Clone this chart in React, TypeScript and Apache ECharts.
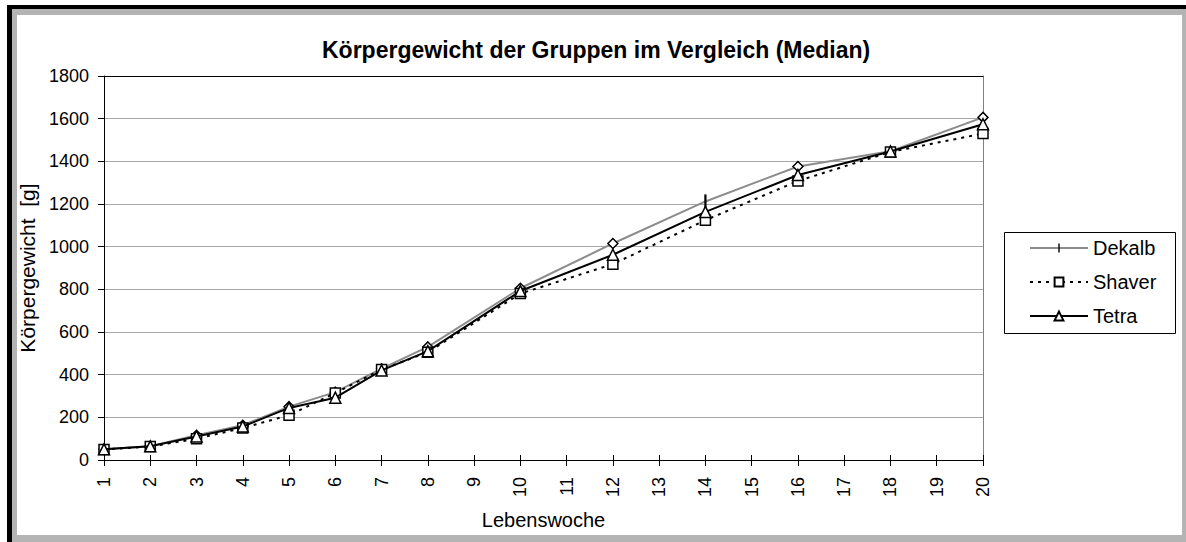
import React, { useEffect, useRef } from 'react';
import * as echarts from 'echarts';

const weeks = ['1', '2', '3', '4', '5', '6', '7', '8', '9', '10', '11', '12', '13', '14', '15', '16', '17', '18', '19', '20'];
const dekalb = [50, 64, 116, 163, 250, 318, 428, 530, null, 805, null, 1015, null, 1212, null, 1376, null, 1447, null, 1606];
const shaver = [49, 63, 100, 150, 210, 314, 424, 505, null, 780, null, 918, null, 1124, null, 1308, null, 1444, null, 1530];
const tetra = [50, 64, 110, 157, 244, 292, 420, 510, null, 792, null, 962, null, 1163, null, 1336, null, 1446, null, 1574];
const seriesNames = ['Dekalb', 'Shaver', 'Tetra'];
const yMin = 0;
const yMax = 1800;
const yStep = 200;
const titleText = 'Körpergewicht der Gruppen im Vergleich (Median)';
const xName = 'Lebenswoche';
const yName = 'Körpergewicht  [g]';

const FONT = "'Liberation Sans', Arial, Helvetica, sans-serif";
const barSymbol = 'path://M0,0M4.2,0h1.6v10h-1.6zM10,10';
const hollow = { color: '#fff', borderColor: '#000', borderWidth: 1.5 };

export default function App() {
  const ref = useRef<HTMLDivElement>(null);
  useEffect(() => {
    document.body.style.margin = '0';
    const chart = echarts.init(ref.current!, null, { renderer: 'svg' });
    const dekalbData = dekalb.map((v, i) =>
      v === null
        ? null
        : i === 13
        ? { value: v, symbol: barSymbol, symbolSize: 14, itemStyle: { color: '#000', borderWidth: 0 } }
        : { value: v, symbol: 'diamond', symbolSize: 10, itemStyle: hollow }
    );
    const option: any = {
      animation: false,
      backgroundColor: '#fff',
      textStyle: { fontFamily: FONT },
      title: {
        text: titleText,
        left: 322,
        top: 38,
        padding: 0,
        textStyle: { fontFamily: FONT, fontSize: 23, fontWeight: 'bold', color: '#000' },
      },
      legend: {
        orient: 'vertical',
        left: 1029,
        top: 238,
        padding: 0,
        itemWidth: 58,
        itemHeight: 11,
        itemGap: 14,
        data: seriesNames,
        textStyle: { fontFamily: FONT, fontSize: 20, color: '#000' },
      },
      grid: { left: 104, right: 203, top: 76, bottom: 82, containLabel: false },
      xAxis: [
        {
          type: 'category',
          data: weeks,
          boundaryGap: false,
          position: 'bottom',
          axisLine: { lineStyle: { color: '#000', width: 1 } },
          axisTick: { show: true, length: 6, lineStyle: { color: '#000' } },
          axisLabel: { rotate: 90, interval: 0, margin: 17, fontSize: 18, color: '#000', fontFamily: FONT },
          splitLine: { show: false },
          name: xName,
          nameLocation: 'middle',
          nameGap: 50,
          nameTextStyle: { fontSize: 20, color: '#000', fontFamily: FONT },
        },
        {
          type: 'category',
          data: weeks,
          boundaryGap: false,
          position: 'bottom',
          axisLine: { show: false },
          axisTick: { show: true, inside: true, length: 5, lineStyle: { color: '#000' } },
          axisLabel: { show: false },
          splitLine: { show: false },
        },
        {
          type: 'category',
          data: weeks,
          boundaryGap: false,
          position: 'top',
          axisLine: { lineStyle: { color: '#000', width: 1 } },
          axisTick: { show: false },
          axisLabel: { show: false },
          splitLine: { show: false },
        },
      ],
      yAxis: [
        {
          type: 'value',
          min: yMin,
          max: yMax,
          interval: yStep,
          position: 'left',
          axisLine: { show: true, lineStyle: { color: '#000', width: 1 } },
          axisTick: { show: true, length: 6, lineStyle: { color: '#000' } },
          axisLabel: { margin: 15, fontSize: 18, color: '#000', fontFamily: FONT, formatter: (v: number) => String(v) },
          splitLine: { show: true, lineStyle: { color: '#a8a8a8', width: 1 } },
          name: yName,
          nameLocation: 'middle',
          nameGap: 53,
          nameTextStyle: { fontSize: 21, color: '#000', fontFamily: FONT },
        },
        {
          type: 'value',
          min: yMin,
          max: yMax,
          interval: yStep,
          position: 'right',
          axisLine: { show: true, lineStyle: { color: '#808080', width: 1 } },
          axisTick: { show: false },
          axisLabel: { show: false },
          splitLine: { show: false },
        },
      ],
      series: [
        {
          name: seriesNames[0],
          type: 'line',
          data: dekalbData,
          connectNulls: true,
          symbol: barSymbol,
          symbolSize: 10,
          itemStyle: { color: '#000', borderColor: '#000', borderWidth: 0 },
          lineStyle: { color: '#8c8c8c', width: 2 },
          z: 2,
        },
        {
          name: seriesNames[1],
          type: 'line',
          data: shaver,
          connectNulls: true,
          symbol: 'rect',
          symbolSize: 10,
          itemStyle: hollow,
          lineStyle: { color: '#000', width: 2, type: [3, 5] },
          z: 3,
        },
        {
          name: seriesNames[2],
          type: 'line',
          data: tetra,
          connectNulls: true,
          symbol: 'triangle',
          symbolSize: 11,
          itemStyle: hollow,
          lineStyle: { color: '#000', width: 2 },
          z: 4,
        },
      ],
      graphic: [
        { type: 'rect', silent: true, shape: { x: 7, y: 5, width: 1179, height: 4 }, style: { fill: '#000' } },
        { type: 'rect', silent: true, shape: { x: 7, y: 5, width: 5, height: 537 }, style: { fill: '#000' } },
        { type: 'rect', silent: true, shape: { x: 12, y: 9, width: 5, height: 533 }, style: { fill: '#b4b4b4' } },
        { type: 'rect', silent: true, shape: { x: 12, y: 9, width: 1174, height: 6 }, style: { fill: '#b4b4b4' } },
        { type: 'rect', silent: true, shape: { x: 1182, y: 15, width: 4, height: 527 }, style: { fill: '#b4b4b4' } },
        { type: 'rect', silent: true, shape: { x: 12, y: 535, width: 1174, height: 7 }, style: { fill: '#b4b4b4' } },
        {
          type: 'rect',
          silent: true,
          shape: { x: 1004.5, y: 232.5, width: 171, height: 101 },
          style: { fill: 'none', stroke: '#000', lineWidth: 1 },
        },
      ],
    };
    chart.setOption(option);
    return () => chart.dispose();
  }, []);
  return <div ref={ref} style={{ width: 1186, height: 542 }} />;
}
